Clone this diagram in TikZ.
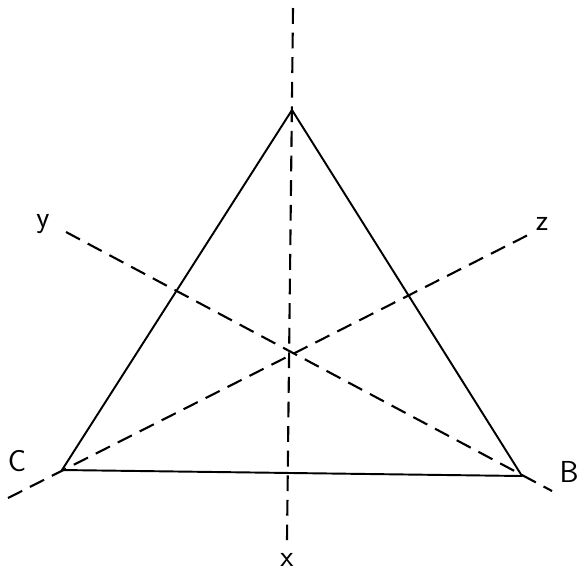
\documentclass[tikz,border=0pt]{standalone}
\usepackage{tikz}
\usetikzlibrary{positioning,calc}

\begin{document}
\begin{tikzpicture}[
            x=0.02cm, y=-0.02cm,
            side/.style={line width=1.1pt, line join=round},
            axis/.style={line width=1.2pt, dash pattern=on 9pt off 5pt},
            lbl/.style={font=\sffamily\LARGE, inner sep=1pt}
        ]
            \useasboundingbox (0,0) rectangle (587,572);
            % vertices
            \coordinate (a) at (292,110);
            \coordinate (c) at (62,470);
            \coordinate (b) at (522,476);
            % ends of the axes
            \coordinate (xtop) at (293,8);
            \coordinate (xbot) at (287,540);
            \coordinate (ytop) at (66,232);
            \coordinate (yend) at (552,491);
            \coordinate (zbot) at (8,498);
            \coordinate (ztop) at (530,234);

            \draw[side] (a) -- (b) -- (c) -- cycle;

            \draw[axis] (xtop) -- (xbot);
            \draw[axis] (ytop) -- (yend);
            \draw[axis] (zbot) -- (ztop);

            \node[lbl] (x) at (287,560) {x};
            \node[lbl] (y) at (43,224) {y};
            \node[lbl] (z) at (542,224) {z};
            \node[lbl] (C) at (17,461) {C};
            \node[lbl] (B) at (569,472) {B};
        \end{tikzpicture}
\end{document}
